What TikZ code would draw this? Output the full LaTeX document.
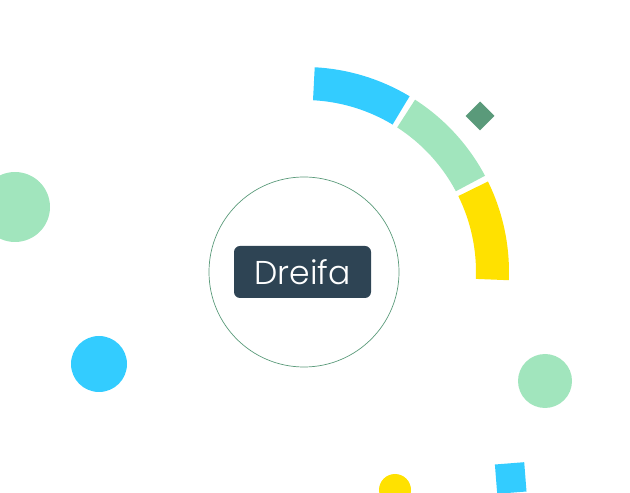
\documentclass[tikz,border=0pt]{standalone}
\usepackage{fontspec}
\newfontfamily\brandfont{Poppins}[UprightFont=* Light]
\usepackage{xcolor}
\usetikzlibrary{calc}
\definecolor{skyblue}{HTML}{33CCFF}
\definecolor{mint}{HTML}{A1E5BD}
\definecolor{sunyellow}{HTML}{FFE100}
\definecolor{pinegreen}{HTML}{5A9A7A}
\definecolor{slate}{HTML}{2E4454}
\tikzset{
  dot/.style={circle, inner sep=0pt, draw=none},
  badge/.style={rounded corners=6pt, fill=slate, text=white, inner sep=0pt,
    minimum width=137pt, minimum height=52pt, font=\brandfont\fontsize{33}{36}\selectfont},
  hub/.style={circle, draw=pinegreen, line width=0.7pt, minimum size=190pt, inner sep=0pt},
}
% annular sector: colour, start angle, end angle
\newcommand\ringseg[3]{%
  \fill[#1] ($(ctr)+(#2:205)$) arc[start angle=#2, end angle=#3, radius=205]
    -- ($(ctr)+(#3:172)$) arc[start angle=#3, end angle=#2, radius=172] -- cycle;}
\begin{document}
\begin{tikzpicture}[x=1pt, y=1pt]
\useasboundingbox (0,0) rectangle (630,493);
\coordinate (ctr) at (304,221);
\node[hub] (ring) at (ctr) {};
\node[badge] (logo) at (302.5,221) {Dreifa};
% outer arc
\ringseg{skyblue}{59}{87}
\ringseg{mint}{28}{57.2}
\ringseg{sunyellow}{-2.3}{26.2}
% scattered shapes
\node[dot, fill=mint, minimum size=70pt] (mintl) at (15,286) {};
\node[dot, fill=skyblue, minimum size=56pt] (bluel) at (99,129) {};
\node[dot, fill=mint, minimum size=54pt] (mintr) at (545,112) {};
\node[dot, fill=sunyellow, minimum size=32pt] (yellowb) at (395,3) {};
\node[fill=pinegreen, minimum size=20.5pt, inner sep=0pt, rotate=45] (gem) at (480,377) {};
\node[fill=skyblue, minimum size=29.4pt, inner sep=0pt, rotate=4.5] (tile) at (510.7,15) {};
\end{tikzpicture}
\end{document}
